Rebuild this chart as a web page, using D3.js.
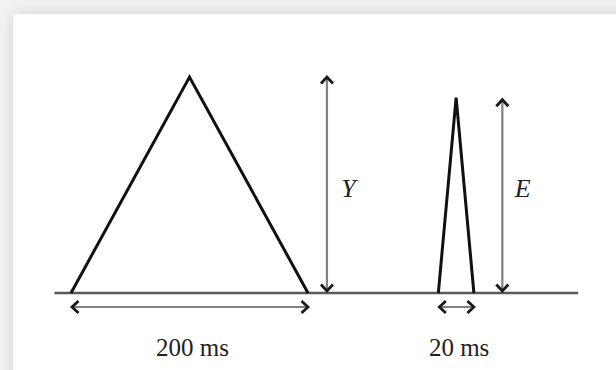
<!DOCTYPE html>
<html>
<head>
<meta charset="utf-8">
<script src="https://cdn.jsdelivr.net/npm/d3@7"></script>
<style>
    body { margin: 0; background: #f2f2f2; overflow: hidden; }
    #card {
        position: absolute; left: 13px; top: 14px;
        width: 640px; height: 400px;
        background: #fff;
        box-shadow: 0 0 14px rgba(0, 0, 0, 0.13);
    }
    #diagram { position: absolute; left: 0; top: 0; }
    text { font-family: "Liberation Serif", "Times New Roman", serif; fill: #222; }
</style>
</head>
<body>
<div id="card"></div>
<svg id="diagram" width="616" height="370"></svg>
<script>
// schematic units: time axis in "ms-like" units, amplitude as fraction of Y
var timeExtent  = [-14, 428];
var pulseNames  = ["Y", "E"];
var pulseOnset  = [0, 310];
var pulseWidth  = [200, 30];
var pulsePeak   = [1.0, 0.905];
var arrowTime   = [216, 364];
var arrowTop    = [1.0, 0.895];
var labelTime   = [228, 374.5];
var widthLabels = ["200 ms", "20 ms"];

var svg = d3.select("#diagram");

// scales
var xScale = d3.scaleLinear().domain([0, 200]).range([71, 308]),
    yScale = d3.scaleLinear().domain([0, 1]).range([293, 77]);

// arrowhead marker (open chevron)
svg.append("defs").append("marker")
    .attr("id", "head")
    .attr("markerUnits", "userSpaceOnUse")
    .attr("viewBox", "-10 -10 13 20")
    .attr("refX", 0).attr("refY", 0)
    .attr("markerWidth", 13).attr("markerHeight", 20)
    .attr("orient", "auto-start-reverse")
    .append("path")
    .attr("d", "M-6.5,-6L0,0L-6.5,6")
    .attr("fill", "none")
    .attr("stroke", "#1a1a1a")
    .attr("stroke-width", 2.8)
    .attr("stroke-linejoin", "miter");

// baseline
svg.append("line")
    .attr("x1", xScale(timeExtent[0])).attr("x2", xScale(timeExtent[1]))
    .attr("y1", yScale(0)).attr("y2", yScale(0))
    .attr("stroke", "#5a5a5a")
    .attr("stroke-width", 2.4);

var pulses = pulseNames.map((name, i) => {
    return {
        name: name,
        onset: pulseOnset[i],
        width: pulseWidth[i],
        peak: pulsePeak[i],
        arrow: arrowTime[i],
        top: arrowTop[i],
        label: labelTime[i],
        widthLabel: widthLabels[i]
    };
});

// triangular pulses
var lineGen = d3.line()
    .x(d => xScale(d[0]))
    .y(d => yScale(d[1]));

svg.selectAll(".pulse")
    .data(pulses)
    .enter()
    .append("path")
    .attr("class", "pulse")
    .attr("d", d => lineGen([[d.onset, 0], [d.onset + d.width / 2, d.peak], [d.onset + d.width, 0]]))
    .attr("fill", "none")
    .attr("stroke", "#111")
    .attr("stroke-width", 3)
    .attr("stroke-linejoin", "miter");

// amplitude arrows
svg.selectAll(".amp")
    .data(pulses)
    .enter()
    .append("line")
    .attr("class", "amp")
    .attr("x1", d => xScale(d.arrow)).attr("x2", d => xScale(d.arrow))
    .attr("y1", d => yScale(d.top)).attr("y2", yScale(0) - 2)
    .attr("stroke", "#808080")
    .attr("stroke-width", 2.2)
    .attr("marker-start", "url(#head)")
    .attr("marker-end", "url(#head)");

// amplitude labels
svg.selectAll(".ampLabel")
    .data(pulses)
    .enter()
    .append("text")
    .attr("class", "ampLabel")
    .attr("x", d => xScale(d.label))
    .attr("y", 197)
    .attr("font-size", 26)
    .attr("font-style", "italic")
    .text(d => d.name);

// duration arrows
svg.selectAll(".dur")
    .data(pulses)
    .enter()
    .append("line")
    .attr("class", "dur")
    .attr("x1", d => xScale(d.onset) + 1).attr("x2", d => xScale(d.onset + d.width))
    .attr("y1", yScale(0) + 14).attr("y2", yScale(0) + 14)
    .attr("stroke", "#808080")
    .attr("stroke-width", 2.2)
    .attr("marker-start", "url(#head)")
    .attr("marker-end", "url(#head)");

// duration labels
svg.selectAll(".durLabel")
    .data(pulses)
    .enter()
    .append("text")
    .attr("class", "durLabel")
    .attr("x", d => xScale(d.onset + d.width / 2) + 3)
    .attr("y", 356)
    .attr("text-anchor", "middle")
    .attr("font-size", 25)
    .text(d => d.widthLabel);
</script>
</body>
</html>
